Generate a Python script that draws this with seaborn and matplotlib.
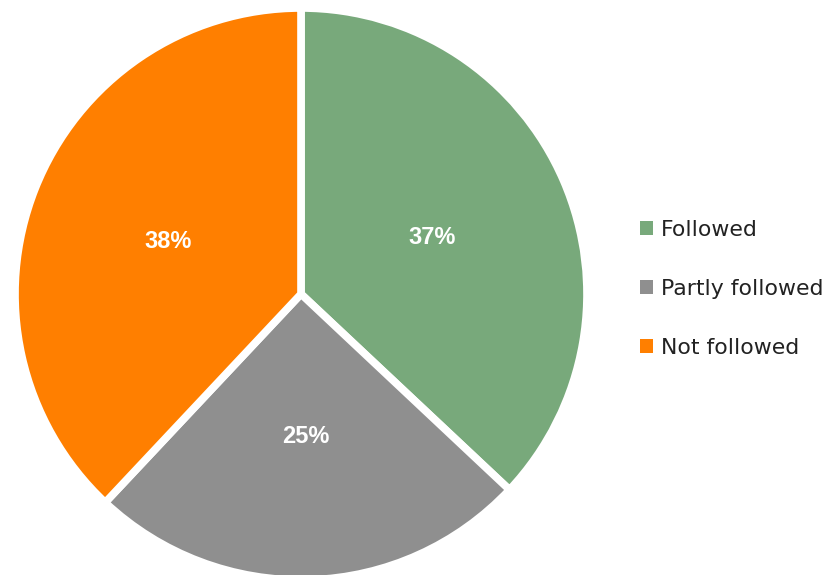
import matplotlib
matplotlib.use("Agg")
import matplotlib.pyplot as plt
import seaborn as sns

categories = ["Followed", "Partly followed", "Not followed"]
values = [37, 25, 38]
colors = ["#78A97B", "#8F8F8F", "#FF7F00"]

sns.set_theme(style="white")
plt.rcParams["font.family"] = ["DejaVu Sans"]

fig = plt.figure(figsize=(8.37, 5.75), dpi=100)
ax = fig.add_axes([15 / 837, (575 - 580) / 575, 572 / 837, 572 / 575])

wedges, texts, autotexts = ax.pie(
    values,
    colors=colors,
    startangle=90,
    counterclock=False,
    autopct="%d%%",
    pctdistance=0.5,
    radius=1.0,
    wedgeprops=dict(edgecolor="white", linewidth=5.5),
)
for t in autotexts:
    t.set_color("white")
    t.set_fontweight("bold")
    t.set_fontsize(17)
    t.set_family(["Liberation Sans", "DejaVu Sans"])

ax.set_xlim(-1.0, 1.0)
ax.set_ylim(-1.0, 1.0)
ax.set_aspect("equal")
ax.axis("off")

leg = fig.legend(
    wedges, categories,
    loc="center left",
    bbox_to_anchor=(631 / 837, 1 - 289 / 575),
    frameon=False,
    fontsize=15.8,
    handlelength=0.6,
    handleheight=0.6,
    handletextpad=0.35,
    labelspacing=1.78,
    borderaxespad=0,
)
for h in leg.legend_handles:
    h.set_linewidth(0)
for t in leg.get_texts():
    t.set_color("#222222")

fig.savefig("out.png", dpi=100)
